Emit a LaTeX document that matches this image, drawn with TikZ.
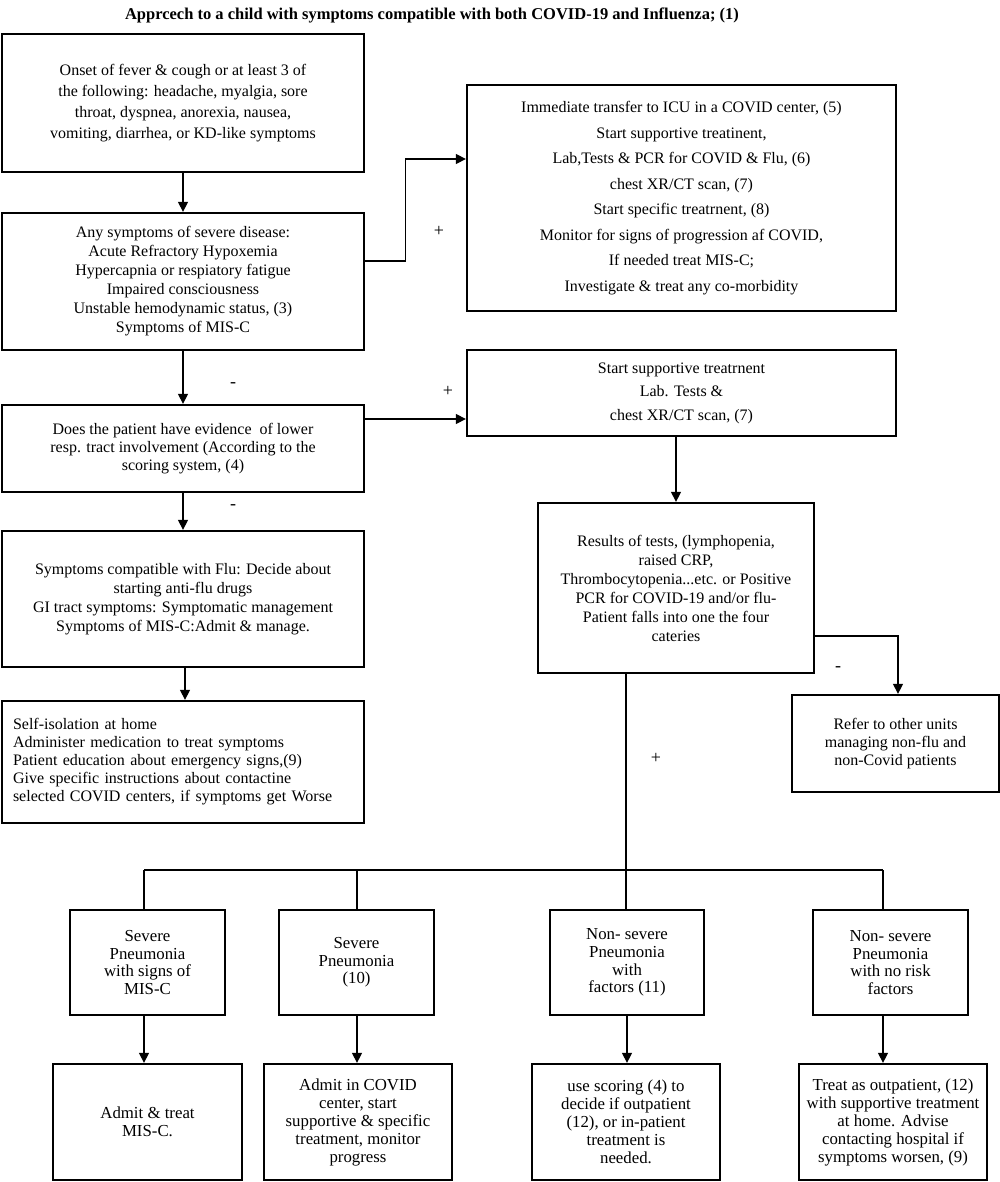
\documentclass[tikz,border=0pt]{standalone}
\usepackage{fontspec}
\setmainfont{Liberation Serif}
\usetikzlibrary{arrows.meta,calc}
\begin{document}
\begin{tikzpicture}[x=1pt,y=-1pt,
  box/.style={draw, line width=2.3pt, inner sep=2pt, align=center, font=\fontsize{16}{19}\selectfont},
  conn/.style={line width=1.3pt},
  arr/.style={line width=1.3pt, -{Triangle[length=10pt,width=10pt]}},
  sign/.style={font=\fontsize{18}{18}\selectfont, inner sep=0pt}]
\useasboundingbox (0,0) rectangle (1000,1182);

\node[font=\bfseries\fontsize{16.5}{18}\selectfont] (title) at (432,15)
  {Apprcech to a child with symptoms compatible with both COVID-19 and Influenza; (1)};

\node[box, minimum width=362pt, minimum height=138pt, font=\fontsize{16}{21}\selectfont] (b1) at (183,103)
  {Onset of fever \& cough or at least 3 of\\the following: headache, myalgia, sore\\throat, dyspnea, anorexia, nausea,\\vomiting, diarrhea, or KD-like symptoms};

\node[box, minimum width=362pt, minimum height=137pt] (b2) at (183,281.5)
  {Any symptoms of severe disease:\\Acute Refractory Hypoxemia\\Hypercapnia or respiatory fatigue\\Impaired consciousness\\Unstable hemodynamic status, (3)\\Symptoms of MIS-C};

\node[box, minimum width=429pt, minimum height=226pt, font=\fontsize{16}{25.5}\selectfont] (icu) at (681.5,198)
  {Immediate transfer to ICU in a COVID center, (5)\\Start supportive treatinent,\\Lab,Tests \& PCR for COVID \& Flu, (6)\\chest XR/CT scan, (7)\\Start specific treatrnent, (8)\\Monitor for signs of progression af COVID,\\If needed treat MIS-C;\\Investigate \& treat any co-morbidity};

\node[box, minimum width=362pt, minimum height=87pt, font=\fontsize{16}{18}\selectfont] (b3) at (183,448.5)
  {Does the patient have evidence \ of lower\\resp. tract involvement (According to the\\scoring system, (4)};

\node[box, minimum width=429pt, minimum height=86pt, font=\fontsize{16}{23.5}\selectfont] (ss) at (681.5,393)
  {Start supportive treatrnent\\Lab. Tests \&\\chest XR/CT scan, (7)};

\node[box, minimum width=276pt, minimum height=170pt] (res) at (676,588)
  {Results of tests, (lymphopenia,\\raised CRP,\\Thrombocytopenia...etc. or Positive\\PCR for COVID-19 and/or flu-\\Patient falls into one the four\\cateries};

\node[box, minimum width=207pt, minimum height=97pt, font=\fontsize{16}{18}\selectfont] (ref) at (895.5,743.5)
  {Refer to other units\\managing non-flu and\\non-Covid patients};

\node[box, minimum width=362pt, minimum height=136pt] (b4) at (183,599)
  {Symptoms compatible with Flu: Decide about\\starting anti-flu drugs\\GI tract symptoms: Symptomatic management\\Symptoms of MIS-C:Admit \& manage.};

\node[box, minimum height=122pt, text width=340pt, inner xsep=11pt, align=left, font=\fontsize{16}{18}\selectfont] (b5) at (183,762)
  {Self-isolation at home\\Administer medication to treat symptoms\\Patient education about emergency signs,(9)\\Give specific instructions about contactine\\selected COVID centers, if symptoms get Worse};

\tikzset{cbox/.style={box, minimum width=155pt, minimum height=105pt, font=\fontsize{16.8}{17.7}\selectfont},
         dbox/.style={box, minimum width=188pt, minimum height=116pt, font=\fontsize{16.8}{18}\selectfont}}

\node[cbox] (c1) at (147.5,962.5) {Severe\\Pneumonia\\with signs of\\MIS-C};
\node[cbox] (c2) at (356.5,962.5) {Severe\\Pneumonia\\(10)};
\node[cbox, minimum width=154pt] (c3) at (627,962.5) {Non- severe\\Pneumonia\\with\\factors (11)};
\node[cbox] (c4) at (890.5,962.5) {Non- severe\\Pneumonia\\with no risk\\factors};

\node[dbox, minimum width=189pt] (d1) at (147.5,1122) {Admit \& treat\\MIS-C.};
\node[dbox] (d2) at (358,1122) {Admit in COVID\\center, start\\supportive \& specific\\treatment, monitor\\progress};
\node[dbox] (d3) at (626,1122) {use scoring (4) to\\decide if outpatient\\(12), or in-patient\\treatment is\\needed.};
\node[dbox] (d4) at (893,1122) {Treat as outpatient, (12)\\with supportive treatment\\at home. Advise\\contacting hospital if\\symptoms worsen, (9)};

% connectors
\draw[arr] (b1) -- (b2);
\draw[arr] ($(b2.east)+(0,-20.5)$) -- ++(40,0) |- ($(icu.west)+(0,-39)$);
\node[sign] (p1) at (439,231) {+};
\draw[arr] (b2) -- (b3);
\node[sign] (m1) at (233,385) {-};
\draw[arr] ($(b3.east)+(0,-29.5)$) -- ($(ss.west)+(0,26)$);
\node[sign] (p2) at (448,391) {+};
\draw[arr] (b3) -- (b4);
\node[sign] (m2) at (233,507) {-};
\draw[arr] ($(b4.south)+(2,0)$) -- ($(b5.north)+(2,0)$);
\draw[arr] (ss.south -| res.north) -- (res.north);
\draw[arr] ($(res.east)+(0,48)$) -| ($(ref.north)+(2.5,0)$);
\node[sign] (m3) at (838,669) {-};

\coordinate (junc) at (626,870);
\draw[conn] ($(res.south)+(-50,0)$) -- (junc);
\node[sign] (p3) at (656,758) {+};
\draw[conn] (junc -| 144,0) -- (junc -| 883,0);
\draw[conn] (junc -| 144,0) -- (c1.north -| 144,0);
\draw[conn] (junc -| 357,0) -- (c2.north -| 357,0);
\draw[conn] (junc) -- (c3.north -| junc);
\draw[conn] (junc -| 883,0) -- (c4.north -| 883,0);

\draw[arr] (c1.south -| 144,0) -- (d1.north -| 144,0);
\draw[arr] (c2.south -| 357,0) -- (d2.north -| 357,0);
\draw[arr] (c3.south) -- (d3.north -| c3.south);
\draw[arr] (c4.south -| 883,0) -- (d4.north -| 883,0);
\end{tikzpicture}
\end{document}
